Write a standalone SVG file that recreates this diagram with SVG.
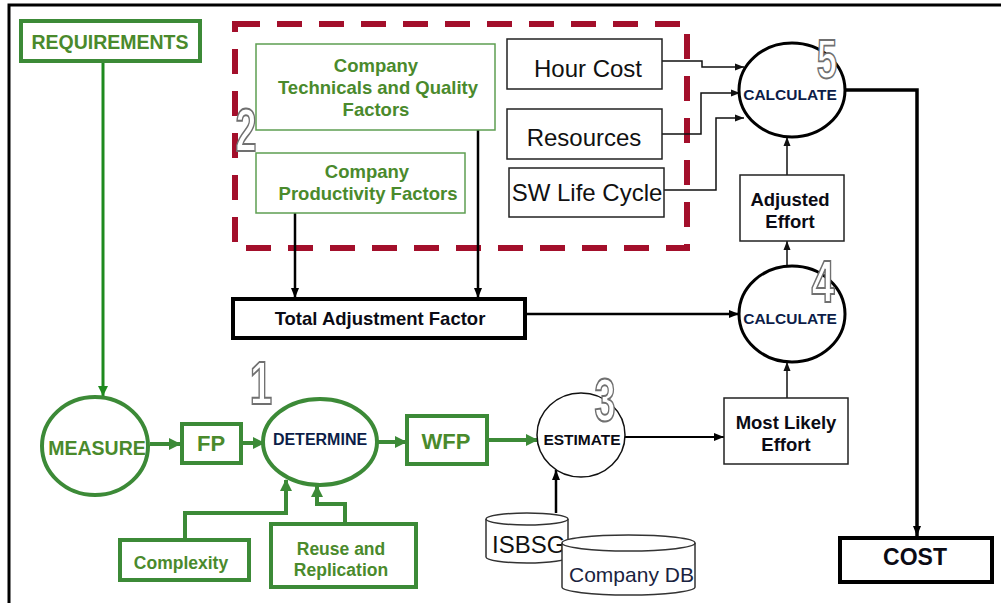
<svg xmlns="http://www.w3.org/2000/svg" width="1001" height="603" viewBox="0 0 1001 603">
<style>
  .gbox{fill:#fff;stroke:#3c8a37;stroke-width:4}
  .gthin{fill:#fff;stroke:#5e9e52;stroke-width:1.5}
  .bbox{fill:#fff;stroke:#222;stroke-width:1.5}
  .bthick{fill:#fff;stroke:#000;stroke-width:4}
  .gt{font-family:"Liberation Sans",Arial,sans-serif;font-weight:bold;fill:#4a8a2c;text-anchor:middle}
  .bt{font-family:"Liberation Sans",Arial,sans-serif;font-weight:bold;fill:#0b0b14;text-anchor:middle}
  .nt{font-family:"Liberation Sans",Arial,sans-serif;font-weight:bold;fill:#0c1d48;text-anchor:middle}
  .rt{font-family:"Liberation Sans",Arial,sans-serif;fill:#111;text-anchor:middle}
  .dig{font-family:"Liberation Sans",Arial,sans-serif;font-weight:bold;font-size:61px;fill:#fff;stroke:#707070;stroke-width:2;text-anchor:middle}
  .gl{fill:none;stroke:#3c8a37;stroke-width:4}
  .bl{fill:none;stroke:#111;stroke-width:1.5}
</style>
<defs>
  <marker id="ga" markerUnits="userSpaceOnUse" markerWidth="12" markerHeight="12" refX="11" refY="6" orient="auto">
    <path d="M0,0 L12,6 L0,12 Z" fill="#3c8a37"/>
  </marker>
  <marker id="gl" markerUnits="userSpaceOnUse" markerWidth="10" markerHeight="10" refX="10" refY="5" orient="auto">
    <path d="M0,0 L10,5 L0,10 Z" fill="#1e8a1e"/>
  </marker>
  <marker id="ba" markerUnits="userSpaceOnUse" markerWidth="10" markerHeight="10" refX="10" refY="5" orient="auto">
    <path d="M0,1 L10,5 L0,9 Z" fill="#000"/>
  </marker>
  <marker id="bs" markerUnits="userSpaceOnUse" markerWidth="9" markerHeight="8" refX="9" refY="4" orient="auto">
    <path d="M0,0.5 L9,4 L0,7.5 Z" fill="#111"/>
  </marker>
</defs>

<!-- frame -->
<path d="M9,603 L9,5 L1001,5" fill="none" stroke="#000" stroke-width="3"/>

<!-- dashed group boundary -->
<rect x="235" y="24" width="452" height="224" fill="none" stroke="#a30f2b" stroke-width="6" stroke-dasharray="25 17"/>

<g id="connectors">
  <line x1="103" y1="62" x2="103" y2="396" stroke="#1e8a1e" stroke-width="3" marker-end="url(#gl)"/>
  <line x1="150" y1="444" x2="180" y2="444" class="gl" marker-end="url(#ga)"/>
  <line x1="242" y1="443" x2="264" y2="443" class="gl" marker-end="url(#ga)"/>
  <line x1="378" y1="442" x2="406" y2="442" class="gl" marker-end="url(#ga)"/>
  <line x1="487" y1="440" x2="537" y2="440" class="gl" marker-end="url(#ga)"/>
  <path d="M185,539 L185,513 L286,513 L286,480" class="gl" marker-end="url(#ga)"/>
  <path d="M345,523 L345,504 L317,504 L317,486" class="gl" marker-end="url(#ga)"/>
  <line x1="556" y1="513" x2="556" y2="470" stroke="#000" stroke-width="2.5" marker-end="url(#ba)"/>
  <line x1="625" y1="437" x2="724" y2="437" stroke="#000" stroke-width="2" marker-end="url(#ba)"/>
  <line x1="787" y1="398" x2="787" y2="362" class="bl" marker-end="url(#bs)"/>
  <line x1="526" y1="314" x2="739" y2="314" stroke="#000" stroke-width="2.5" marker-end="url(#ba)"/>
  <line x1="295" y1="213" x2="295" y2="298" stroke="#000" stroke-width="2.5" marker-end="url(#ba)"/>
  <line x1="478" y1="130" x2="478" y2="298" stroke="#000" stroke-width="2.5" marker-end="url(#ba)"/>
  <line x1="787" y1="266" x2="787" y2="241" class="bl" marker-end="url(#bs)"/>
  <line x1="787" y1="175" x2="787" y2="137" class="bl" marker-end="url(#bs)"/>
  <path d="M662,61 L702,61 L702,67 L744,67" class="bl" marker-end="url(#bs)"/>
  <path d="M662,134 L701,134 L701,93 L740,93" class="bl" marker-end="url(#bs)"/>
  <path d="M664,190 L716,190 L716,118 L744,118" class="bl" marker-end="url(#bs)"/>
  <path d="M844,90 L917,90 L917,536" fill="none" stroke="#000" stroke-width="3.5" marker-end="url(#ba)"/>
</g>

<g id="requirements">
  <rect x="21" y="21" width="179" height="40" class="gbox"/>
  <text x="110" y="49" class="gt" font-size="19.5">REQUIREMENTS</text>
</g>
<g id="measure">
  <ellipse cx="95" cy="446" rx="53" ry="49" class="gbox"/>
  <text x="97" y="455" class="gt" font-size="19.5">MEASURE</text>
</g>
<g id="fp">
  <rect x="182" y="424" width="59" height="39" class="gbox"/>
  <text x="211" y="451" class="gt" font-size="22">FP</text>
</g>
<g id="determine">
  <ellipse cx="320" cy="442" rx="57" ry="43" class="gbox"/>
  <text x="320" y="445" class="nt" font-size="16">DETERMINE</text>
</g>
<g id="wfp">
  <rect x="407" y="416" width="80" height="48" class="gbox"/>
  <text x="446" y="449" class="gt" font-size="22">WFP</text>
</g>
<g id="complexity">
  <rect x="120" y="540" width="129" height="40" class="gbox"/>
  <text x="181" y="569" class="gt" font-size="17.5">Complexity</text>
</g>
<g id="reuse">
  <rect x="271" y="524" width="145" height="63" class="gbox"/>
  <text x="341" y="555" class="gt" font-size="17.5">Reuse and</text>
  <text x="341" y="576" class="gt" font-size="17.5">Replication</text>
</g>
<g id="estimate">
  <ellipse cx="581" cy="435" rx="44" ry="42" fill="#fff" stroke="#111" stroke-width="1.5"/>
  <text x="582" y="445" class="bt" font-size="15.5">ESTIMATE</text>
</g>
<g id="isbsg">
  <path d="M486,519 L486,557 A41,6 0 0 0 568,557 L568,519 A41,6 0 0 0 486,519 Z" fill="#fff" stroke="#333" stroke-width="1.5"/>
  <path d="M486,519 A41,6 0 0 0 568,519" fill="none" stroke="#333" stroke-width="1.5"/>
  <text x="492" y="553" class="rt" font-size="24" style="text-anchor:start">ISBSG</text>
</g>
<g id="companydb">
  <path d="M562,543 L562,587 A66.5,8 0 0 0 695,587 L695,543 A66.5,8 0 0 0 562,543 Z" fill="#fff" stroke="#333" stroke-width="1.5"/>
  <path d="M562,543 A66.5,8 0 0 0 695,543" fill="none" stroke="#333" stroke-width="1.5"/>
  <text x="569" y="582" class="rt" font-size="21" style="text-anchor:start;fill:#1a2340">Company DB</text>
</g>
<g id="mostlikely">
  <rect x="724" y="398" width="124" height="66" class="bbox"/>
  <text x="786" y="429" class="bt" font-size="18.5">Most Likely</text>
  <text x="786" y="451" class="bt" font-size="18.5">Effort</text>
</g>
<g id="calculate4">
  <ellipse cx="792" cy="314" rx="53" ry="48" fill="#fff" stroke="#000" stroke-width="3"/>
  <text x="790" y="324" class="nt" font-size="15.5">CALCULATE</text>
</g>
<g id="totaladj">
  <rect x="233" y="299" width="292" height="39" class="bthick"/>
  <text x="380" y="325" class="bt" font-size="18.5">Total Adjustment Factor</text>
</g>
<g id="techfactors">
  <rect x="256" y="44" width="239" height="86" class="gthin"/>
  <text x="376" y="72" class="gt" font-size="18.5">Company</text>
  <text x="378" y="94" class="gt" font-size="18.5">Technicals and Quality</text>
  <text x="376" y="116" class="gt" font-size="18.5">Factors</text>
</g>
<g id="prodfactors">
  <rect x="256" y="153" width="209" height="60" class="gthin"/>
  <text x="367" y="178" class="gt" font-size="18.5">Company</text>
  <text x="368" y="200" class="gt" font-size="18.5">Productivity Factors</text>
</g>
<g id="hourcost">
  <rect x="507" y="39" width="155" height="50" class="bbox"/>
  <text x="588" y="77" class="rt" font-size="24">Hour Cost</text>
</g>
<g id="resources">
  <rect x="507" y="109" width="155" height="50" class="bbox"/>
  <text x="584" y="146" class="rt" font-size="24">Resources</text>
</g>
<g id="swlifecycle">
  <rect x="509" y="168" width="155" height="49" class="bbox"/>
  <text x="587" y="201" class="rt" font-size="24">SW Life Cycle</text>
</g>
<g id="adjusted">
  <rect x="740" y="175" width="104" height="66" class="bbox"/>
  <text x="790" y="206" class="bt" font-size="18.5">Adjusted</text>
  <text x="790" y="228" class="bt" font-size="18.5">Effort</text>
</g>
<g id="calculate5">
  <ellipse cx="792" cy="90" rx="53" ry="47" fill="#fff" stroke="#000" stroke-width="3"/>
  <text x="790" y="100" class="nt" font-size="15.5">CALCULATE</text>
</g>
<g id="cost">
  <rect x="840" y="538" width="152" height="44" class="bthick"/>
  <text x="915" y="565" class="bt" font-size="23">COST</text>
</g>

<g id="step-numbers">
  <text class="dig" transform="translate(261,404) scale(0.66,1)">1</text>
  <text class="dig" transform="translate(246,151) scale(0.62,1)">2</text>
  <text class="dig" transform="translate(605,421) scale(0.62,1)">3</text>
  <text class="dig" transform="translate(823,302) scale(0.68,0.96)">4</text>
  <text class="dig" transform="translate(827,78) scale(0.6,0.92)">5</text>
</g>
</svg>
